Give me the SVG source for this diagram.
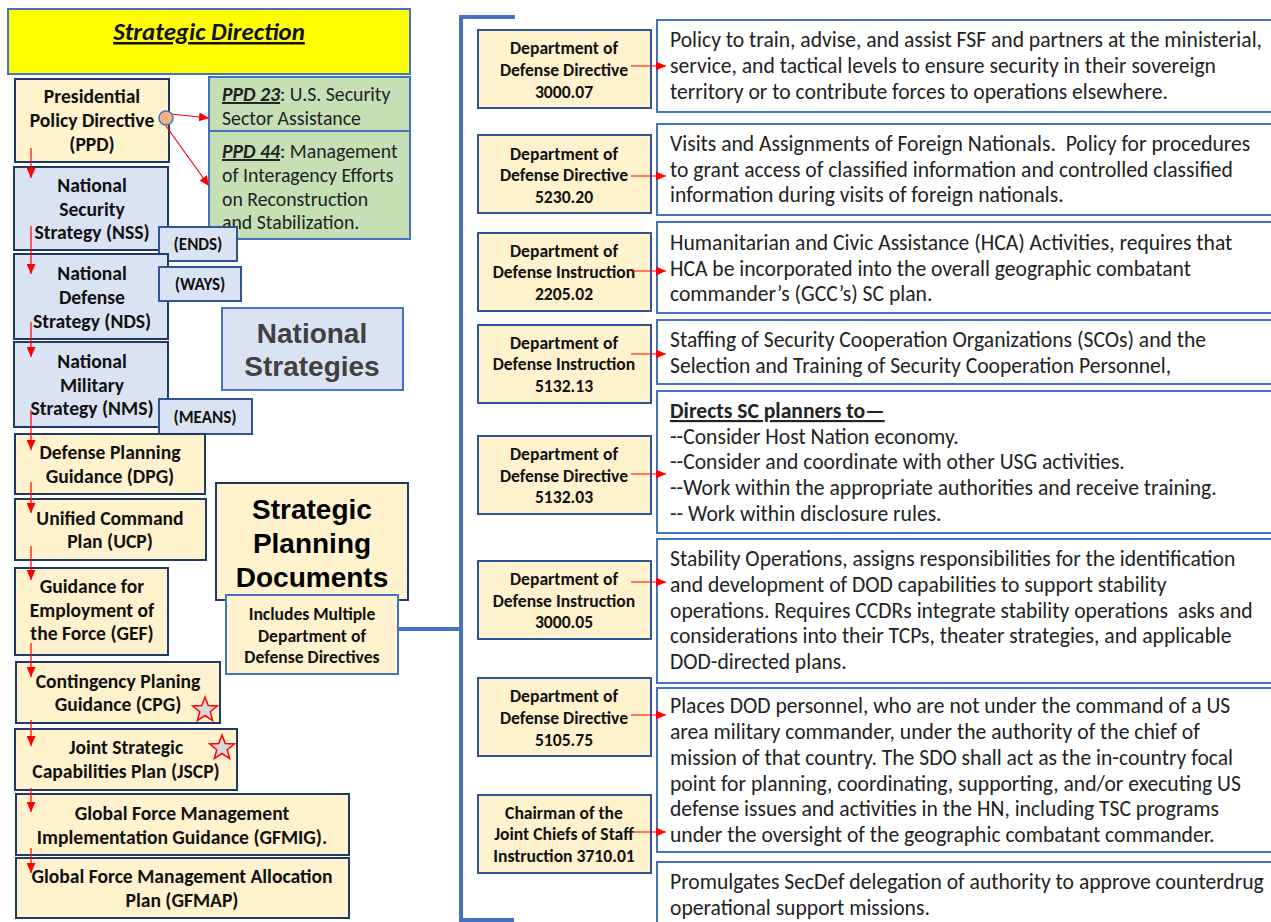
<svg xmlns="http://www.w3.org/2000/svg" width="1271" height="922" viewBox="0 0 1271 922">
<defs>
<style>
.cal{font-family:Carlito,Lato,"Liberation Sans",sans-serif;}
.lb{font-family:Carlito,Lato,"Liberation Sans",sans-serif;font-weight:bold;font-size:19.6px;fill:#111;text-anchor:middle;}
.tg{font-family:Carlito,Lato,"Liberation Sans",sans-serif;font-weight:bold;font-size:17px;fill:#111;text-anchor:middle;}
.db{font-family:Carlito,Lato,"Liberation Sans",sans-serif;font-weight:bold;font-size:17.6px;fill:#111;text-anchor:middle;}
.ds{font-family:Carlito,Lato,"Liberation Sans",sans-serif;font-size:21.6px;fill:#222;}
.yel{fill:#FFF2CC;stroke:#1F3864;stroke-width:2;}
.blu{fill:#DAE3F3;stroke:#1F3864;stroke-width:2;}
.tag{fill:#DAE3F3;stroke:#2F5597;stroke-width:2;}
.dod{fill:#FFF2CC;stroke:#2F5597;stroke-width:2;}
.desc{fill:#fff;stroke:#4472C4;stroke-width:2;}
.grn{fill:#C5E0B4;stroke:#4472C4;stroke-width:2;}
.ra{stroke:#FF0000;stroke-width:1.2;fill:none;marker-end:url(#ah);}
.br{stroke:#4472C4;stroke-width:4;fill:none;}
.big{font-family:"Liberation Sans",Arial,sans-serif;font-weight:bold;text-anchor:middle;}
</style>
<marker id="ah" markerUnits="userSpaceOnUse" markerWidth="11" markerHeight="9" refX="10" refY="4.5" orient="auto">
<path d="M0,0 L10,4.5 L0,9 z" fill="#FF0000"/>
</marker>
<polygon id="star" points="0,-13 3.23,-4.45 12.36,-4.02 5.23,1.7 7.64,10.52 0,5.5 -7.64,10.52 -5.23,1.7 -12.36,-4.02 -3.23,-4.45" fill="#D9D9D9" stroke="#FF0000" stroke-width="1.5"/>
</defs>
<rect width="1271" height="922" fill="#fff"/>

<g id="strategic-direction">
<rect x="8" y="9" width="402" height="65" fill="#FFFF00" stroke="#4472C4" stroke-width="2"/>
<text x="209" y="40" class="cal" font-size="24.9" font-weight="bold" font-style="italic" text-decoration="underline" text-anchor="middle" fill="#111">Strategic Direction</text>
</g>

<g id="ppd">
<rect class="yel" x="15" y="79" width="154" height="83"/>
<text class="lb"><tspan x="92" y="103">Presidential</tspan><tspan x="92" y="127">Policy Directive</tspan><tspan x="92" y="151">(PPD)</tspan></text>
</g>

<g id="ppd23">
<rect class="grn" x="209" y="77" width="201" height="54"/>
<text class="cal" font-size="19.8" fill="#222"><tspan x="222" y="101"><tspan font-weight="bold" font-style="italic" text-decoration="underline">PPD 23</tspan>: U.S. Security</tspan><tspan x="222" y="125">Sector Assistance</tspan></text>
</g>
<g id="ppd44">
<rect class="grn" x="209" y="131" width="201" height="108"/>
<text class="cal" font-size="19.8" fill="#222"><tspan x="222" y="158"><tspan font-weight="bold" font-style="italic" text-decoration="underline">PPD 44</tspan>: Management</tspan><tspan x="222" y="182">of Interagency Efforts</tspan><tspan x="222" y="206">on Reconstruction</tspan><tspan x="222" y="229">and Stabilization.</tspan></text>
</g>

<g id="nss">
<rect class="blu" x="14" y="167" width="154" height="83"/>
<text class="lb"><tspan x="92" y="192">National</tspan><tspan x="92" y="216">Security</tspan><tspan x="92" y="239">Strategy (NSS)</tspan></text>
</g>
<g id="ends">
<rect class="tag" x="159" y="227" width="78" height="34"/>
<text class="tg" x="198" y="250">(ENDS)</text>
</g>
<g id="nds">
<rect class="blu" x="14" y="254" width="154" height="85"/>
<text class="lb"><tspan x="92" y="280">National</tspan><tspan x="92" y="304">Defense</tspan><tspan x="92" y="328">Strategy (NDS)</tspan></text>
</g>
<g id="ways">
<rect class="tag" x="159" y="267" width="82" height="34"/>
<text class="tg" x="200" y="290">(WAYS)</text>
</g>
<g id="nms">
<rect class="blu" x="14" y="342" width="154" height="85"/>
<text class="lb"><tspan x="92" y="368">National</tspan><tspan x="92" y="392">Military</tspan><tspan x="92" y="415">Strategy (NMS)</tspan></text>
</g>
<g id="means">
<rect class="tag" x="159" y="399" width="93" height="35"/>
<text class="tg" x="205" y="423">(MEANS)</text>
</g>
<g id="national-strategies">
<rect x="222" y="308" width="181" height="82" fill="#DAE3F3" stroke="#4472C4" stroke-width="2"/>
<text class="big" font-size="28" fill="#404040"><tspan x="312" y="343">National</tspan><tspan x="312" y="376">Strategies</tspan></text>
</g>

<g id="dpg">
<rect class="yel" x="15" y="434" width="190" height="60"/>
<text class="lb"><tspan x="110" y="459">Defense Planning</tspan><tspan x="110" y="483">Guidance (DPG)</tspan></text>
</g>
<g id="ucp">
<rect class="yel" x="15" y="499" width="191" height="61"/>
<text class="lb"><tspan x="110" y="525">Unified Command</tspan><tspan x="110" y="548">Plan (UCP)</tspan></text>
</g>
<g id="gef">
<rect class="yel" x="15" y="568" width="153" height="87"/>
<text class="lb"><tspan x="92" y="593">Guidance for</tspan><tspan x="92" y="617">Employment of</tspan><tspan x="92" y="640">the Force (GEF)</tspan></text>
</g>
<g id="cpg">
<rect class="yel" x="16" y="662" width="204" height="61"/>
<text class="lb"><tspan x="118" y="688">Contingency Planing</tspan><tspan x="118" y="711">Guidance (CPG)</tspan></text>
<use href="#star" x="205" y="710"/>
</g>
<g id="jscp">
<rect class="yel" x="15" y="729" width="222" height="61"/>
<text class="lb"><tspan x="126" y="754">Joint Strategic</tspan><tspan x="126" y="778">Capabilities Plan (JSCP)</tspan></text>
<use href="#star" x="222" y="748"/>
</g>
<g id="gfmig">
<rect class="yel" x="16" y="794" width="333" height="61"/>
<text class="lb"><tspan x="182" y="820">Global Force Management</tspan><tspan x="182" y="844">Implementation Guidance (GFMIG).</tspan></text>
</g>
<g id="gfmap">
<rect class="yel" x="16" y="858" width="333" height="60"/>
<text class="lb"><tspan x="182" y="883">Global Force Management Allocation</tspan><tspan x="182" y="907">Plan (GFMAP)</tspan></text>
</g>

<g id="strategic-planning-documents">
<rect class="yel" x="216" y="483" width="192" height="117"/>
<text class="big" font-size="28" fill="#000"><tspan x="312" y="519">Strategic</tspan><tspan x="312" y="553">Planning</tspan><tspan x="312" y="587">Documents</tspan></text>
</g>
<g id="includes-multiple">
<rect x="226" y="595" width="172" height="79" fill="#FFF2CC" stroke="#4472C4" stroke-width="2"/>
<text class="db"><tspan x="312" y="620">Includes Multiple</tspan><tspan x="312" y="642">Department of</tspan><tspan x="312" y="663">Defense Directives</tspan></text>
</g>

<g id="dodd-3000-07">
<rect class="dod" x="478" y="30" width="173" height="78"/>
<text class="db"><tspan x="564" y="54">Department of</tspan><tspan x="564" y="76">Defense Directive</tspan><tspan x="564" y="98">3000.07</tspan></text>
</g>
<g id="dodd-5230-20">
<rect class="dod" x="478" y="135" width="173" height="78"/>
<text class="db"><tspan x="564" y="160">Department of</tspan><tspan x="564" y="181">Defense Directive</tspan><tspan x="564" y="203">5230.20</tspan></text>
</g>
<g id="dodi-2205-02">
<rect class="dod" x="478" y="233" width="173" height="78"/>
<text class="db"><tspan x="564" y="257">Department of</tspan><tspan x="564" y="278">Defense Instruction</tspan><tspan x="564" y="300">2205.02</tspan></text>
</g>
<g id="dodi-5132-13">
<rect class="dod" x="478" y="325" width="173" height="78"/>
<text class="db"><tspan x="564" y="349">Department of</tspan><tspan x="564" y="370">Defense Instruction</tspan><tspan x="564" y="392">5132.13</tspan></text>
</g>
<g id="dodd-5132-03">
<rect class="dod" x="478" y="436" width="173" height="78"/>
<text class="db"><tspan x="564" y="460">Department of</tspan><tspan x="564" y="482">Defense Directive</tspan><tspan x="564" y="503">5132.03</tspan></text>
</g>
<g id="dodi-3000-05">
<rect class="dod" x="478" y="561" width="173" height="78"/>
<text class="db"><tspan x="564" y="585">Department of</tspan><tspan x="564" y="607">Defense Instruction</tspan><tspan x="564" y="628">3000.05</tspan></text>
</g>
<g id="dodd-5105-75">
<rect class="dod" x="478" y="678" width="173" height="78"/>
<text class="db"><tspan x="564" y="702">Department of</tspan><tspan x="564" y="724">Defense Directive</tspan><tspan x="564" y="746">5105.75</tspan></text>
</g>
<g id="cjcsi-3710-01">
<rect class="dod" x="478" y="795" width="173" height="78"/>
<text class="db"><tspan x="564" y="819">Chairman of the</tspan><tspan x="564" y="840">Joint Chiefs of Staff</tspan><tspan x="564" y="862">Instruction 3710.01</tspan></text>
</g>

<g id="desc-3000-07">
<rect class="desc" x="657" y="20" width="620" height="92"/>
<text class="ds"><tspan x="670" y="47">Policy to train, advise, and assist FSF and partners at the ministerial,</tspan><tspan x="670" y="73">service, and tactical levels to ensure security in their sovereign</tspan><tspan x="670" y="99">territory or to contribute forces to operations elsewhere.</tspan></text>
</g>
<g id="desc-5230-20">
<rect class="desc" x="657" y="124" width="620" height="91"/>
<text class="ds"><tspan x="670" y="151">Visits and Assignments of Foreign Nationals.&#160; Policy for procedures</tspan><tspan x="670" y="177">to grant access of classified information and controlled classified</tspan><tspan x="670" y="202">information during visits of foreign nationals.</tspan></text>
</g>
<g id="desc-2205-02">
<rect class="desc" x="657" y="222" width="620" height="91"/>
<text class="ds"><tspan x="670" y="250">Humanitarian and Civic Assistance (HCA) Activities, requires that</tspan><tspan x="670" y="276">HCA be incorporated into the overall geographic combatant</tspan><tspan x="670" y="301">commander’s (GCC’s) SC plan.</tspan></text>
</g>
<g id="desc-5132-13">
<rect class="desc" x="657" y="320" width="620" height="64"/>
<text class="ds"><tspan x="670" y="347">Staffing of Security Cooperation Organizations (SCOs) and the</tspan><tspan x="670" y="373">Selection and Training of Security Cooperation Personnel,</tspan></text>
</g>
<g id="desc-5132-03">
<rect class="desc" x="657" y="391" width="620" height="142"/>
<text class="ds"><tspan x="670" y="418" font-weight="bold" text-decoration="underline">Directs SC planners to—</tspan><tspan x="670" y="444">--Consider Host Nation economy.</tspan><tspan x="670" y="469">--Consider and coordinate with other USG activities.</tspan><tspan x="670" y="495">--Work within the appropriate authorities and receive training.</tspan><tspan x="670" y="521">-- Work within disclosure rules.</tspan></text>
</g>
<g id="desc-3000-05">
<rect class="desc" x="657" y="539" width="620" height="144"/>
<text class="ds"><tspan x="670" y="566">Stability Operations, assigns responsibilities for the identification</tspan><tspan x="670" y="592">and development of DOD capabilities to support stability</tspan><tspan x="670" y="618">operations. Requires CCDRs integrate stability operations&#160; asks and</tspan><tspan x="670" y="643">considerations into their TCPs, theater strategies, and applicable</tspan><tspan x="670" y="669">DOD-directed plans.</tspan></text>
</g>
<g id="desc-5105-75">
<rect class="desc" x="657" y="688" width="620" height="164"/>
<text class="ds"><tspan x="670" y="713">Places DOD personnel, who are not under the command of a US</tspan><tspan x="670" y="739">area military commander, under the authority of the chief of</tspan><tspan x="670" y="765">mission of that country. The SDO shall act as the in-country focal</tspan><tspan x="670" y="791">point for planning, coordinating, supporting, and/or executing US</tspan><tspan x="670" y="816">defense issues and activities in the HN, including TSC programs</tspan><tspan x="670" y="842">under the oversight of the geographic combatant commander.</tspan></text>
</g>
<g id="desc-3710-01">
<rect class="desc" x="657" y="862" width="620" height="70"/>
<text class="ds"><tspan x="670" y="889">Promulgates SecDef delegation of authority to approve counterdrug</tspan><tspan x="670" y="915">operational support missions.</tspan></text>
</g>

<g id="connectors">
<path class="br" d="M515,17 H461 V920 H514 M461,629 H398"/>
<line class="ra" x1="171" y1="114" x2="209" y2="118"/>
<line class="ra" x1="166" y1="126" x2="209" y2="186"/>
<circle cx="166" cy="118" r="7" fill="#F4B183" stroke="#4472C4" stroke-width="1.5"/>
<line class="ra" x1="31" y1="148" x2="31" y2="178"/>
<line class="ra" x1="31" y1="226" x2="31" y2="274"/>
<line class="ra" x1="31" y1="322" x2="31" y2="357"/>
<line class="ra" x1="31" y1="410" x2="31" y2="450"/>
<line class="ra" x1="31" y1="482" x2="31" y2="513"/>
<line class="ra" x1="31" y1="546" x2="31" y2="580"/>
<line class="ra" x1="31" y1="643" x2="31" y2="677"/>
<line class="ra" x1="31" y1="720" x2="31" y2="746"/>
<line class="ra" x1="31" y1="788" x2="31" y2="812"/>
<line class="ra" x1="31" y1="848" x2="31" y2="873"/>
<line class="ra" x1="631" y1="66" x2="666" y2="66"/>
<line class="ra" x1="631" y1="176" x2="666" y2="176"/>
<line class="ra" x1="631" y1="271" x2="666" y2="271"/>
<line class="ra" x1="631" y1="354" x2="666" y2="354"/>
<line class="ra" x1="631" y1="474" x2="666" y2="474"/>
<line class="ra" x1="631" y1="582" x2="666" y2="582"/>
<line class="ra" x1="631" y1="715" x2="666" y2="715"/>
<line class="ra" x1="631" y1="832" x2="666" y2="832"/>
</g>
</svg>
